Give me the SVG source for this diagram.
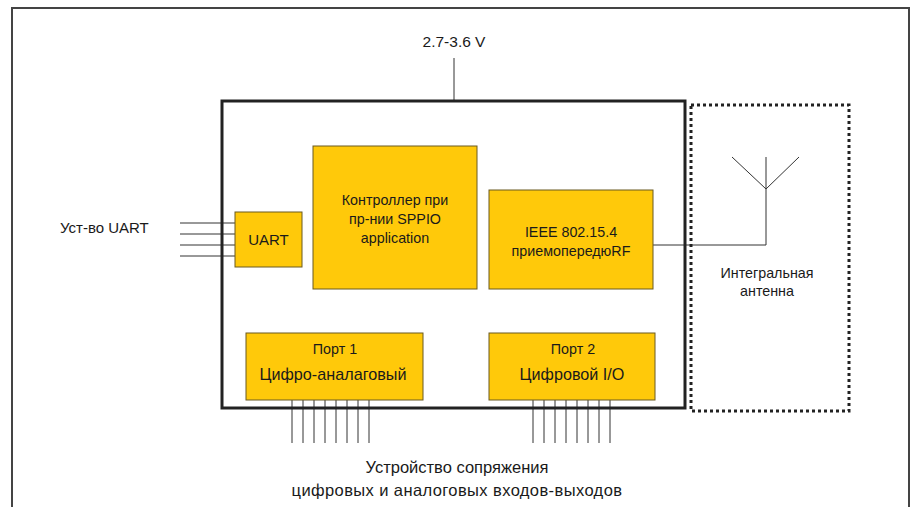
<svg xmlns="http://www.w3.org/2000/svg" width="911" height="507" viewBox="0 0 911 507">
<style>
.blk{fill:#FFC90A;stroke:#6b5a20;stroke-width:1}
.t{font-family:"Liberation Sans",Arial,sans-serif;font-size:14.3px;fill:#1a1a1a;text-anchor:middle}
.tb{font-family:"Liberation Sans",Arial,sans-serif;font-size:16.2px;fill:#1a1a1a;text-anchor:middle}
.tl{font-family:"Liberation Sans",Arial,sans-serif;font-size:16.5px;fill:#1a1a1a;text-anchor:middle}
.w{stroke:#333;stroke-width:1;fill:none}
</style>
<rect width="911" height="507" fill="#fff"/>
<g id="frame">
<path d="M12,507 V8 H909 V507" fill="none" stroke="#444" stroke-width="2"/>
</g>
<g id="connectors">
<line class="w" x1="454" y1="58" x2="454" y2="101"/>
<line class="w" x1="180" y1="223" x2="235" y2="223"/>
<line class="w" x1="180" y1="234" x2="235" y2="234"/>
<line class="w" x1="180" y1="245" x2="235" y2="245"/>
<line class="w" x1="180" y1="256" x2="235" y2="256"/>
<path class="w" d="M653,245 H766 V157"/>
<path class="w" d="M732,157 L766,189 L799,157"/>
<g id="port1-lines">
<line class="w" x1="292" y1="400" x2="292" y2="443"/>
<line class="w" x1="303" y1="400" x2="303" y2="443"/>
<line class="w" x1="314" y1="400" x2="314" y2="443"/>
<line class="w" x1="325" y1="400" x2="325" y2="443"/>
<line class="w" x1="336" y1="400" x2="336" y2="443"/>
<line class="w" x1="347" y1="400" x2="347" y2="443"/>
<line class="w" x1="358" y1="400" x2="358" y2="443"/>
<line class="w" x1="369" y1="400" x2="369" y2="443"/>
</g>
<g id="port2-lines">
<line class="w" x1="533" y1="400" x2="533" y2="443"/>
<line class="w" x1="544" y1="400" x2="544" y2="443"/>
<line class="w" x1="555" y1="400" x2="555" y2="443"/>
<line class="w" x1="566" y1="400" x2="566" y2="443"/>
<line class="w" x1="577" y1="400" x2="577" y2="443"/>
<line class="w" x1="588" y1="400" x2="588" y2="443"/>
<line class="w" x1="599" y1="400" x2="599" y2="443"/>
<line class="w" x1="610" y1="400" x2="610" y2="443"/>
</g>
</g>
<g id="main-box">
<rect x="222" y="101" width="463" height="307" fill="none" stroke="#222" stroke-width="3"/>
</g>
<g id="antenna-box">
<rect x="691" y="105" width="158" height="306" fill="none" stroke="#222" stroke-width="3" stroke-dasharray="3,3"/>
<text class="t" x="767" y="278">Интегральная</text>
<text class="t" x="767" y="296">антенна</text>
</g>
<g id="voltage"><text class="t" x="454" y="47" style="font-size:15.5px">2.7-3.6 V</text></g>
<g id="uart-device"><text class="t" x="60" y="233" style="text-anchor:start;font-size:15px">Уст-во UART</text></g>
<g id="uart">
<rect class="blk" x="235" y="212" width="67" height="55"/>
<text class="t" x="268.5" y="245" style="font-size:15px">UART</text>
</g>
<g id="controller">
<rect class="blk" x="313" y="146" width="164" height="143"/>
<text class="t" x="395" y="205">Контроллер при</text>
<text class="t" x="395" y="224">пр-нии SPPIO</text>
<text class="t" x="395" y="243">application</text>
</g>
<g id="rf">
<rect class="blk" x="489" y="190" width="164" height="99"/>
<text class="t" x="571" y="237">IEEE 802.15.4</text>
<text class="t" x="571" y="256">приемопередюRF</text>
</g>
<g id="port1">
<rect class="blk" x="246" y="333" width="177" height="67"/>
<text class="t" x="335" y="354">Порт 1</text>
<text class="tb" x="333" y="380">Цифро-аналаговый</text>
</g>
<g id="port2">
<rect class="blk" x="489" y="333" width="166" height="67"/>
<text class="t" x="573" y="354">Порт 2</text>
<text class="tb" x="572" y="380">Цифровой I/O</text>
</g>
<g id="bottom-label">
<text class="tl" x="457" y="473">Устройство сопряжения</text>
<text class="tl" x="457" y="496" style="letter-spacing:0.4px">цифровых и аналоговых входов-выходов</text>
</g>
</svg>
